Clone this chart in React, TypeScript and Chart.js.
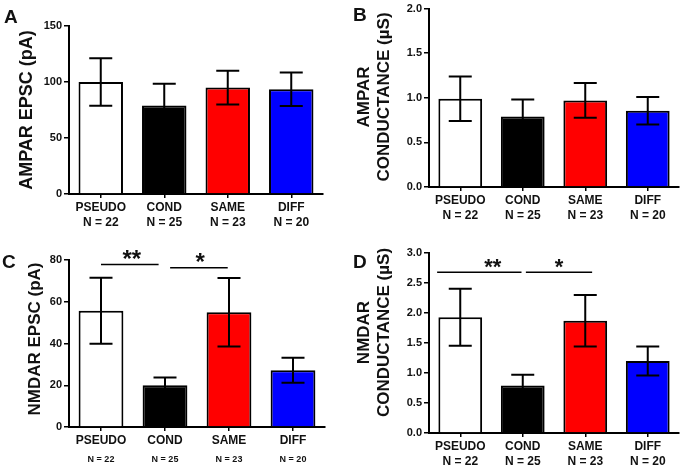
import React, { useEffect, useRef } from "react";
import { Chart, registerables } from "chart.js";

Chart.register(...registerables);

const FONT = "'Liberation Sans', Arial, Helvetica, sans-serif";

// ---------- data ----------
const categories = ["PSEUDO", "COND", "SAME", "DIFF"];
const nLabels = ["N = 22", "N = 25", "N = 23", "N = 20"];
const barColors = ["#ffffff", "#000000", "#ff0000", "#0000ff"];

const ampaEpscMean = [100, 79, 95, 93.5];
const ampaEpscSem = [21.3, 19.5, 15, 15];
const ampaEpscTicks = [0, 50, 100, 150];

const ampaCondMean = [0.99, 0.79, 0.97, 0.855];
const ampaCondSem = [0.25, 0.19, 0.195, 0.155];
const ampaCondTicks = [0, 0.5, 1.0, 1.5, 2.0];

const nmdaEpscMean = [55.7, 20, 55, 27.2];
const nmdaEpscSem = [15.8, 3.7, 16.4, 6];
const nmdaEpscTicks = [0, 20, 40, 60, 80];
const nmdaEpscSig = [
  { from: 0, to: 0.9, y: 77.8, label: "**", at: 0.48 },
  { from: 1.08, to: 1.98, y: 76.3, label: "*", at: 1.55 },
];

const nmdaCondMean = [1.93, 0.79, 1.87, 1.2];
const nmdaCondSem = [0.475, 0.18, 0.43, 0.24];
const nmdaCondTicks = [0, 0.5, 1.0, 1.5, 2.0, 2.5, 3.0];
const nmdaCondSig = [
  { from: -0.37, to: 0.98, y: 2.68, label: "**", at: 0.52 },
  { from: 1.05, to: 2.11, y: 2.68, label: "*", at: 1.58 },
];

type Sig = { from: number; to: number; y: number; label: string; at: number };

type PanelProps = {
  pos: { left: number; top: number };
  area: { left: number; right: number; top: number; bottom: number };
  letter: string;
  letterPos: { x: number; y: number };
  titleLines: { text: string; x: number }[];
  titleY: number;
  titleSize: number;
  means: number[];
  errs: number[];
  ticks: number[];
  decimals: number;
  smallN: boolean;
  sig: Sig[];
  starSize: number;
};

const W = 341;
const H = 234;

function Panel(p: PanelProps) {
  const ref = useRef<HTMLCanvasElement | null>(null);

  useEffect(() => {
    if (!ref.current) return;
    const yMax = p.ticks[p.ticks.length - 1];

    const decor = {
      id: "decor",
      afterDatasetsDraw(chart: any) {
        const ctx = chart.ctx;
        const meta = chart.getDatasetMeta(0);
        const ys = chart.scales.y;
        const xs = chart.scales.x;
        ctx.save();
        ctx.strokeStyle = "#000";
        ctx.lineWidth = 2;
        p.means.forEach((m: number, i: number) => {
          const el = meta.data[i];
          const x = el.x;
          const yT = ys.getPixelForValue(m + p.errs[i]);
          const yB = ys.getPixelForValue(m - p.errs[i]);
          const cap = 11.5;
          ctx.beginPath();
          ctx.moveTo(x, yT);
          ctx.lineTo(x, yB);
          ctx.moveTo(x - cap, yT);
          ctx.lineTo(x + cap, yT);
          ctx.moveTo(x - cap, yB);
          ctx.lineTo(x + cap, yB);
          ctx.stroke();
        });
        // significance
        ctx.lineWidth = 1.5;
        ctx.fillStyle = "#111";
        p.sig.forEach((s) => {
          const y = ys.getPixelForValue(s.y);
          const x1 = xs.getPixelForValue(s.from);
          const x2 = xs.getPixelForValue(s.to);
          ctx.beginPath();
          ctx.moveTo(x1, y);
          ctx.lineTo(x2, y);
          ctx.stroke();
          ctx.font = `bold ${p.starSize}px ${FONT}`;
          ctx.textAlign = "center";
          ctx.textBaseline = "alphabetic";
          ctx.fillText(s.label, xs.getPixelForValue(s.at), y + 2);
        });
        ctx.restore();
      },
      afterDraw(chart: any) {
        const ctx = chart.ctx;
        ctx.save();
        ctx.fillStyle = "#111";
        ctx.font = `bold 19px ${FONT}`;
        ctx.textAlign = "left";
        ctx.textBaseline = "top";
        ctx.fillText(p.letter, p.letterPos.x, p.letterPos.y);
        ctx.font = `bold ${p.titleSize}px ${FONT}`;
        ctx.textAlign = "center";
        ctx.textBaseline = "middle";
        p.titleLines.forEach((t) => {
          ctx.save();
          ctx.translate(t.x, p.titleY);
          ctx.rotate(-Math.PI / 2);
          ctx.fillText(t.text, 0, 0);
          ctx.restore();
        });
        ctx.restore();
      },
    };

    const labels = p.smallN
      ? categories.slice()
      : categories.map((c, i) => [c, nLabels[i]]);

    const xHeight = p.smallN ? 22 : H - p.area.bottom;

    const scales: any = {
      x: {
        type: "category",
        offset: true,
        weight: 0,
        grid: {
          display: true,
          drawOnChartArea: false,
          drawTicks: true,
          tickLength: 4,
          offset: false,
          color: "#000",
          lineWidth: 1.5,
        },
        border: { display: true, color: "#000", width: 2 },
        ticks: {
          color: "#111",
          font: { family: FONT, size: 12, weight: "bold", lineHeight: 1.25 },
          padding: 2,
          maxRotation: 0,
          autoSkip: false,
        },
        afterFit: (s: any) => {
          s.height = xHeight;
        },
      },
      y: {
        type: "linear",
        min: 0,
        max: yMax,
        grid: {
          drawOnChartArea: false,
          drawTicks: true,
          tickLength: 5,
          color: "#000",
          lineWidth: 1.5,
        },
        border: { display: true, color: "#000", width: 2 },
        ticks: {
          color: "#111",
          font: { family: FONT, size: 11, weight: "bold" },
          padding: 2,
          callback: (v: any) => Number(v).toFixed(p.decimals),
        },
        afterBuildTicks: (s: any) => {
          s.ticks = p.ticks.map((v) => ({ value: v }));
        },
        afterFit: (s: any) => {
          s.width = p.area.left;
        },
      },
    };

    if (p.smallN) {
      scales.x2 = {
        type: "category",
        position: "bottom",
        offset: true,
        weight: 1,
        labels: nLabels,
        grid: { display: false, drawTicks: false },
        border: { display: false },
        ticks: {
          color: "#111",
          font: { family: FONT, size: 9, weight: "bold" },
          padding: 5,
          maxRotation: 0,
          autoSkip: false,
        },
        afterFit: (s: any) => {
          s.height = H - p.area.bottom - 22;
        },
      };
    }

    const chart = new Chart(ref.current, {
      type: "bar",
      data: {
        labels,
        datasets: [
          {
            data: p.means,
            backgroundColor: barColors,
            borderColor: "#000",
            borderWidth: 2,
            borderSkipped: "start",
            barPercentage: 0.7,
            categoryPercentage: 1,
          },
        ],
      },
      options: {
        responsive: false,
        animation: false,
        layout: {
          padding: { top: p.area.top, right: W - p.area.right, left: 0, bottom: 0 },
        },
        plugins: {
          legend: { display: false },
          tooltip: { enabled: false },
          title: { display: false },
        },
        scales,
      },
      plugins: [decor],
    });
    return () => chart.destroy();
  }, []);

  return (
    <canvas
      ref={ref}
      width={W}
      height={H}
      style={{ position: "absolute", left: p.pos.left, top: p.pos.top, width: W, height: H, display: "block" }}
    />
  );
}

export default function App() {
  return (
    <div style={{ position: "fixed", left: 0, top: 0, width: 682, height: 468, background: "#fff" }}>
      <Panel
        pos={{ left: 0, top: 0 }}
        area={{ left: 69, right: 323, top: 26, bottom: 194 }}
        letter="A"
        letterPos={{ x: 4, y: 8 }}
        titleLines={[{ text: "AMPAR EPSC (pA)", x: 27.5 }]}
        titleY={110}
        titleSize={18}
        means={ampaEpscMean}
        errs={ampaEpscSem}
        ticks={ampaEpscTicks}
        decimals={0}
        smallN={false}
        sig={[]}
        starSize={24}
      />
      <Panel
        pos={{ left: 341, top: 0 }}
        area={{ left: 88, right: 338, top: 7, bottom: 187 }}
        letter="B"
        letterPos={{ x: 12, y: 6 }}
        titleLines={[
          { text: "AMPAR", x: 23 },
          { text: "CONDUCTANCE (\u00b5S)", x: 43 },
        ]}
        titleY={97}
        titleSize={17}
        means={ampaCondMean}
        errs={ampaCondSem}
        ticks={ampaCondTicks}
        decimals={1}
        smallN={false}
        sig={[]}
        starSize={24}
      />
      <Panel
        pos={{ left: 0, top: 234 }}
        area={{ left: 69, right: 325, top: 26, bottom: 193 }}
        letter="C"
        letterPos={{ x: 2, y: 19 }}
        titleLines={[{ text: "NMDAR EPSC (pA)", x: 35 }]}
        titleY={105}
        titleSize={17}
        means={nmdaEpscMean}
        errs={nmdaEpscSem}
        ticks={nmdaEpscTicks}
        decimals={0}
        smallN={true}
        sig={nmdaEpscSig}
        starSize={24}
      />
      <Panel
        pos={{ left: 341, top: 234 }}
        area={{ left: 88, right: 338, top: 19, bottom: 199 }}
        letter="D"
        letterPos={{ x: 12, y: 19 }}
        titleLines={[
          { text: "NMDAR", x: 23.5 },
          { text: "CONDUCTANCE (\u00b5S)", x: 43.5 },
        ]}
        titleY={98.5}
        titleSize={17}
        means={nmdaCondMean}
        errs={nmdaCondSem}
        ticks={nmdaCondTicks}
        decimals={1}
        smallN={false}
        sig={nmdaCondSig}
        starSize={22}
      />
    </div>
  );
}
